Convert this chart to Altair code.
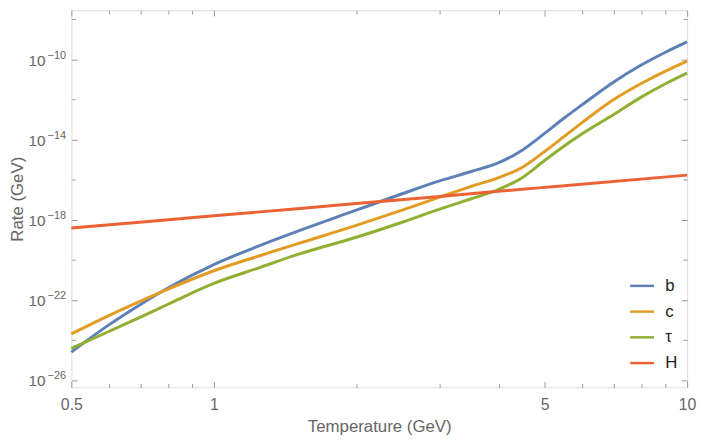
import altair as alt
import pandas as pd

# Temperatures (GeV) at which the curves were read
temperature = [0.5, 0.6, 0.7, 0.8, 1.0, 1.25, 1.5, 2.0, 2.5, 3.0, 3.5, 4.0,
               4.5, 5.0, 5.5, 6.0, 7.0, 8.0, 9.0, 10.0]
# log10 of the rate (GeV)
b_log10 = [-24.59, -23.23, -22.21, -21.39, -20.22, -19.28, -18.57, -17.51,
           -16.69, -16.05, -15.58, -15.14, -14.49, -13.68, -12.91, -12.25,
           -11.11, -10.27, -9.63, -9.11]
c_log10 = [-23.68, -22.77, -22.05, -21.45, -20.53, -19.78, -19.19, -18.27,
           -17.51, -16.86, -16.32, -15.88, -15.35, -14.58, -13.83, -13.14,
           -11.99, -11.19, -10.57, -10.07]
tau_log10 = [-24.40, -23.56, -22.84, -22.20, -21.16, -20.37, -19.73, -18.86,
             -18.11, -17.46, -16.94, -16.47, -15.86, -15.03, -14.31, -13.70,
             -12.73, -11.87, -11.20, -10.67]
h_temperature = [0.5, 1.0, 2.0, 5.0, 10.0]
h_log10 = [-18.40, -17.79, -17.18, -16.37, -15.76]

series = ["b", "c", "τ", "H"]
colors = ["#5E81B5", "#E19C24", "#8FB032", "#EB6235"]

x_major = [0.5, 1, 5, 10]
x_minor = [0.6, 0.7, 0.8, 0.9, 2, 3, 4, 6, 7, 8, 9]
y_major_exp = [-26, -22, -18, -14, -10]
y_minor_exp = [-24, -20, -16, -12, -8]
y_domain_exp = [-26.346, -7.531]

rows = []
for name, ts, vals in [("b", temperature, b_log10), ("c", temperature, c_log10),
                       ("τ", temperature, tau_log10), ("H", h_temperature, h_log10)]:
    for t, v in zip(ts, vals):
        rows.append({"T": t, "rate": 10 ** v, "series": name})
df = pd.DataFrame(rows)

ylab = pd.DataFrame({
    "val": [10.0 ** e for e in y_major_exp],
    "base": ["10"] * len(y_major_exp),
    "exp": ["−" + str(-e) for e in y_major_exp],
})

GRAY = "#9a9a9a"
LABEL = "#666666"

xs = alt.Scale(type="log", domain=[0.5, 10], nice=False)
ys = alt.Scale(type="log", domain=[10 ** y_domain_exp[0], 10 ** y_domain_exp[1]], nice=False)


def ax(orient, values, size, labels=False, title=None, **kw):
    opts = dict(orient=orient, values=values, tickSize=size, offset=-size,
                domain=False, grid=False, tickColor=GRAY, labels=labels, title=title)
    opts.update(kw)
    return alt.Axis(**opts)


base = alt.Chart(df)

lines = base.mark_line(strokeWidth=3, interpolate="monotone").encode(
    x=alt.X("T:Q", scale=xs,
            axis=ax("bottom", x_major, 6, labels=True, title="Temperature (GeV)",
                    format="~g", labelPadding=9, labelFlush=False, labelFontSize=16,
                    labelColor=LABEL, titleFontSize=17, titleColor=LABEL,
                    titleFontWeight="normal", titlePadding=7)),
    y=alt.Y("rate:Q", scale=ys,
            axis=ax("left", [10 ** e for e in y_major_exp], 6,
                    title="Rate (GeV)", titleFontSize=17, titleColor=LABEL,
                    titleFontWeight="normal", titleX=-60, titleBaseline="middle")),
    color=alt.Color("series:N", scale=alt.Scale(domain=series, range=colors),
                    legend=alt.Legend(orient="none", legendX=563, legendY=265,
                                      title=None, symbolType="stroke", symbolSize=576,
                                      symbolStrokeWidth=2.5, labelFontSize=17,
                                      labelColor="#222222", rowPadding=4,
                                      labelOffset=10, padding=0)),
)


def ghost(xaxis, yaxis):
    return base.mark_line(opacity=0).encode(
        x=alt.X("T:Q", scale=xs, axis=xaxis),
        y=alt.Y("rate:Q", scale=ys, axis=yaxis),
        detail="series:N",
    )


minor_bl = ghost(ax("bottom", x_minor, 4), ax("left", [10 ** e for e in y_minor_exp], 4))
major_tr = ghost(ax("top", x_major, 6), ax("right", [10 ** e for e in y_major_exp], 6))
minor_tr = ghost(ax("top", x_minor, 4), ax("right", [10 ** e for e in y_minor_exp], 4))

ylab_base = alt.Chart(ylab).mark_text(
    align="right", baseline="alphabetic", fontSize=15.5, color=LABEL, dy=6
).encode(
    x=alt.value(-26),
    y=alt.Y("val:Q", scale=ys, axis=None),
    text="base:N",
)
ylab_exp = alt.Chart(ylab).mark_text(
    align="left", baseline="alphabetic", fontSize=11, color=LABEL, dy=-1
).encode(
    x=alt.value(-24),
    y=alt.Y("val:Q", scale=ys, axis=None),
    text="exp:N",
)

chart = alt.layer(lines, minor_bl, major_tr, minor_tr, ylab_base, ylab_exp).resolve_axis(
    x="independent", y="independent"
).properties(
    width=622, height=381,
    autosize=alt.AutoSizeParams(type="none"),
    padding={"left": 64, "top": 0, "right": 10, "bottom": 50},
).configure_view(
    stroke=GRAY, strokeWidth=1
).configure(
    font="Liberation Sans"
)

chart.save("out.html", embed_options={"renderer": "svg", "actions": False})
